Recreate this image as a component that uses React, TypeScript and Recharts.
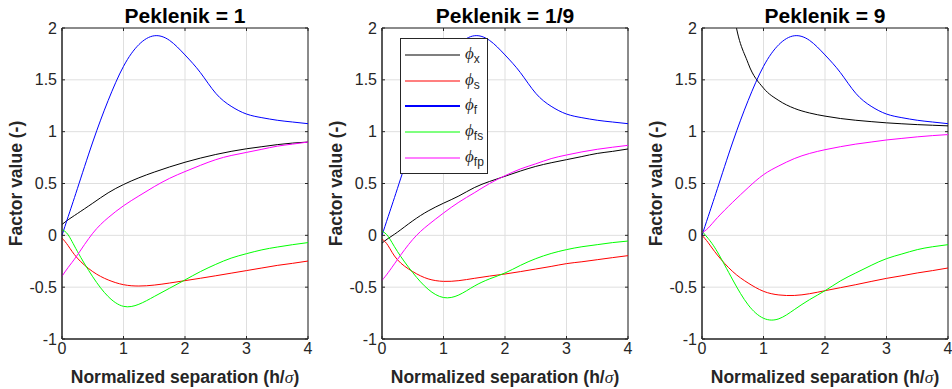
import {
  LineChart,
  Line,
  XAxis,
  YAxis,
  CartesianGrid,
  ReferenceArea,
  Legend,
  Label,
} from "recharts";

// normalized separation h/sigma
const SEP = [0, 0.1, 0.25, 0.5, 0.75, 1, 1.25, 1.5, 1.75, 2, 2.25, 2.5, 2.75, 3, 3.25, 3.5, 3.75, 4];

// phi_f is the same for every Peklenik number
const PHI_F = [0, 0.18, 0.45, 0.9, 1.3, 1.63, 1.84, 1.925, 1.88, 1.74, 1.57, 1.37, 1.245, 1.17, 1.135, 1.11, 1.093, 1.077];

// Peklenik = 1
const P1_X = [0.105, 0.15, 0.21, 0.31, 0.41, 0.49, 0.555, 0.61, 0.66, 0.705, 0.745, 0.78, 0.81, 0.835, 0.855, 0.875, 0.89, 0.9];
const P1_S = [-0.026, -0.1, -0.22, -0.35, -0.43, -0.476, -0.489, -0.48, -0.46, -0.437, -0.414, -0.39, -0.365, -0.34, -0.315, -0.29, -0.27, -0.248];
const P1_FS = [0.055, 0.005, -0.155, -0.4, -0.59, -0.685, -0.665, -0.59, -0.51, -0.43, -0.35, -0.28, -0.22, -0.177, -0.14, -0.113, -0.09, -0.07];
const P1_FP = [-0.395, -0.31, -0.19, 0.02, 0.17, 0.285, 0.38, 0.47, 0.55, 0.615, 0.675, 0.73, 0.77, 0.8, 0.83, 0.86, 0.88, 0.9];

// Peklenik = 1/9
const P2_X = [-0.075, -0.03, 0.03, 0.14, 0.235, 0.31, 0.38, 0.46, 0.52, 0.57, 0.62, 0.665, 0.7, 0.73, 0.76, 0.79, 0.81, 0.833];
const P2_S = [-0.035, -0.1, -0.235, -0.35, -0.42, -0.444, -0.437, -0.415, -0.393, -0.373, -0.35, -0.325, -0.3, -0.273, -0.255, -0.235, -0.215, -0.196];
const P2_FS = [0.04, -0.01, -0.155, -0.36, -0.52, -0.6, -0.575, -0.49, -0.42, -0.363, -0.29, -0.225, -0.175, -0.138, -0.11, -0.09, -0.07, -0.055];
const P2_FP = [-0.435, -0.36, -0.235, -0.04, 0.1, 0.215, 0.32, 0.41, 0.5, 0.575, 0.64, 0.69, 0.74, 0.775, 0.805, 0.83, 0.85, 0.868];

// Peklenik = 9 (phi_x runs off the top near h = 0)
const P3_X = [null, null, 4.4, 2.22, 1.66, 1.42, 1.3, 1.225, 1.18, 1.15, 1.127, 1.11, 1.097, 1.085, 1.076, 1.068, 1.062, 1.056];
const P3_S = [0, -0.07, -0.19, -0.35, -0.46, -0.54, -0.575, -0.58, -0.563, -0.534, -0.505, -0.476, -0.445, -0.415, -0.39, -0.363, -0.34, -0.315];
const P3_FS = [0.04, -0.03, -0.16, -0.43, -0.67, -0.8, -0.805, -0.717, -0.62, -0.534, -0.44, -0.363, -0.29, -0.225, -0.18, -0.138, -0.11, -0.09];
const P3_FP = [0.025, 0.07, 0.17, 0.32, 0.46, 0.585, 0.67, 0.74, 0.79, 0.826, 0.855, 0.88, 0.9, 0.92, 0.935, 0.95, 0.962, 0.972];

const X_TICKS = [0, 1, 2, 3, 4];
const Y_TICKS = [-1, -0.5, 0, 0.5, 1, 1.5, 2];

const AXIS = "#262626";
const GRID = "#dfdfdf";
const FONT = "'Liberation Sans', Arial, Helvetica, sans-serif";

const SERIES = ["x", "s", "f", "fs", "fp"] as const;

const COLORS = {
  x: "#000000",
  s: "#ff0000",
  f: "#0000ff",
  fs: "#00ff00",
  fp: "#ff00ff",
};

const PANEL_W = 320;
const PANEL_H = 389;
const MARGIN = { top: 28, right: 12, bottom: 20, left: 22 };
const Y_AXIS_W = 40;
const X_AXIS_H = 30;
const PLOT_W = PANEL_W - MARGIN.left - MARGIN.right - Y_AXIS_W;
const PLOT_H = PANEL_H - MARGIN.top - MARGIN.bottom - X_AXIS_H;

type Row = { h: number; x: number | null; s: number; f: number; fs: number; fp: number };

const buildRows = (
  x: (number | null)[],
  s: number[],
  fs: number[],
  fp: number[]
): Row[] =>
  SEP.map((h, i) => ({ h, x: x[i], s: s[i], f: PHI_F[i], fs: fs[i], fp: fp[i] }));

// inward ticks on both sides, like a boxed axes
const YTick = (props: any) => {
  const { x, y, payload } = props;
  return (
    <g>
      <line x1={x} x2={x + 3} y1={y} y2={y} stroke={AXIS} />
      <line x1={x + PLOT_W - 3} x2={x + PLOT_W} y1={y} y2={y} stroke={AXIS} />
      <text
        x={x - 5}
        y={y}
        dy="0.35em"
        textAnchor="end"
        fill={AXIS}
        fontSize={16}
        fontFamily={FONT}
      >
        {payload.value}
      </text>
    </g>
  );
};

const XTick = (props: any) => {
  const { x, y, payload } = props;
  return (
    <g>
      <line x1={x} x2={x} y1={y} y2={y - 3} stroke={AXIS} />
      <line x1={x} x2={x} y1={y - PLOT_H} y2={y - PLOT_H + 3} stroke={AXIS} />
      <text
        x={x}
        y={y + 15}
        textAnchor="middle"
        fill={AXIS}
        fontSize={16}
        fontFamily={FONT}
      >
        {payload.value}
      </text>
    </g>
  );
};

const YLabel = (props: any) => {
  const { viewBox } = props;
  const cx = MARGIN.left - 6;
  const cy = viewBox.y + viewBox.height / 2;
  return (
    <text
      x={cx}
      y={cy}
      transform={`rotate(-90, ${cx}, ${cy})`}
      textAnchor="middle"
      dominantBaseline="central"
      fill={AXIS}
      fontSize={17.5}
      fontWeight="bold"
      fontFamily={FONT}
    >
      Factor value (-)
    </text>
  );
};

const XLabel = (props: any) => {
  const { viewBox } = props;
  const cx = viewBox.x + viewBox.width / 2;
  return (
    <text
      x={cx}
      y={383}
      textAnchor="middle"
      fill={AXIS}
      fontSize={17.5}
      fontWeight="bold"
      fontFamily={FONT}
    >
      Normalized separation (h/
      <tspan fontStyle="italic" fontWeight="normal" fontFamily="'Liberation Serif', serif">
        σ
      </tspan>
      )
    </text>
  );
};

const renderLegend = (props: any) => {
  const items = [...props.payload].sort(
    (a: any, b: any) => SERIES.indexOf(a.value) - SERIES.indexOf(b.value)
  );
  return (
    <div
      style={{
        border: `1px solid ${AXIS}`,
        background: "#fff",
        width: 86,
        padding: "3px 0 2px 0",
        fontFamily: FONT,
      }}
    >
      {items.map((item: any) => (
        <div
          key={item.value}
          style={{ display: "flex", alignItems: "center", height: 25.8 }}
        >
          <svg width={60} height={4} style={{ marginLeft: 4 }}>
            <line x1={0} x2={55} y1={2} y2={2} stroke={item.color} strokeWidth={item.value === "f" ? 2 : 1.2} />
          </svg>
          <span style={{ fontSize: 17, color: AXIS, lineHeight: 1 }}>
            <span style={{ fontStyle: "italic", fontFamily: "'Liberation Serif', serif" }}>ϕ</span>
            <sub style={{ fontSize: 12 }}>{item.value}</sub>
          </span>
        </div>
      ))}
    </div>
  );
};

function Panel({
  title,
  rows,
  showLegend,
}: {
  title: string;
  rows: Row[];
  showLegend?: boolean;
}) {
  return (
    <div style={{ position: "relative", width: PANEL_W, height: PANEL_H }}>
      <div
        style={{
          position: "absolute",
          left: MARGIN.left + Y_AXIS_W,
          width: PLOT_W,
          top: 3,
          textAlign: "center",
          fontFamily: FONT,
          fontWeight: "bold",
          fontSize: 21,
          lineHeight: "26px",
          color: "#000",
        }}
      >
        {title}
      </div>
      <LineChart width={PANEL_W} height={PANEL_H} data={rows} margin={MARGIN}>
        <CartesianGrid stroke={GRID} />
        <XAxis
          type="number"
          dataKey="h"
          domain={[0, 4]}
          ticks={X_TICKS}
          interval={0}
          height={X_AXIS_H}
          tickSize={0}
          tickMargin={0}
          tickLine={false}
          axisLine={{ stroke: AXIS }}
          tick={<XTick />}
        >
          <Label content={<XLabel />} />
        </XAxis>
        <YAxis
          type="number"
          domain={[-1, 2]}
          ticks={Y_TICKS}
          interval={0}
          allowDataOverflow
          width={Y_AXIS_W}
          tickSize={0}
          tickMargin={0}
          tickLine={false}
          axisLine={{ stroke: AXIS }}
          tick={<YTick />}
        >
          <Label content={<YLabel />} />
        </YAxis>
        <ReferenceArea x1={0} x2={4} y1={-1} y2={2} fill="none" stroke={AXIS} strokeOpacity={1} />
        {SERIES.map((key) => (
          <Line
            key={key}
            name={key}
            // phi_x for Peklenik 9 has a near-vertical start, keep it monotone
            type={key === "x" && rows[0].x === null ? "monotone" : "natural"}
            dataKey={key}
            stroke={COLORS[key]}
            strokeWidth={1}
            dot={false}
            activeDot={false}
            connectNulls={false}
            isAnimationActive={false}
          />
        ))}
        {showLegend && (
          <Legend
            layout="vertical"
            align="center"
            verticalAlign="middle"
            content={renderLegend}
            wrapperStyle={{ left: 80, top: 38, width: "auto" }}
          />
        )}
      </LineChart>
    </div>
  );
}

export default function App() {
  return (
    <div
      style={{
        position: "absolute",
        left: 0,
        top: 0,
        width: 952,
        height: 389,
        display: "flex",
        background: "#fff",
      }}
    >
      <Panel title="Peklenik = 1" rows={buildRows(P1_X, P1_S, P1_FS, P1_FP)} />
      <Panel title="Peklenik = 1/9" rows={buildRows(P2_X, P2_S, P2_FS, P2_FP)} showLegend />
      <Panel title="Peklenik = 9" rows={buildRows(P3_X, P3_S, P3_FS, P3_FP)} />
    </div>
  );
}
